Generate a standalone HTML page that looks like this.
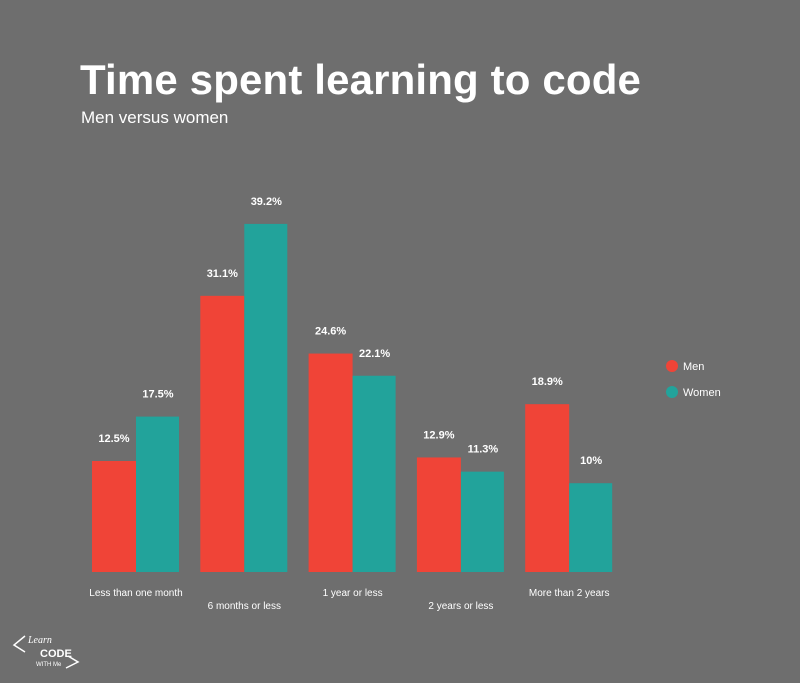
<!DOCTYPE html>
<html><head><meta charset="utf-8"><style>
html,body{margin:0;padding:0;background:#6e6e6e;}
body{width:800px;height:683px;position:relative;overflow:hidden;font-family:"Liberation Sans",sans-serif;color:#fff;}
#title{position:absolute;left:80px;top:56px;font-size:42px;font-weight:bold;letter-spacing:0.15px;}
#sub{position:absolute;left:81px;top:108px;font-size:17px;}
svg{position:absolute;left:0;top:0;}
</style></head><body>
<div id="title">Time spent learning to code</div>
<div id="sub">Men versus women</div>
<svg id="chart" width="800" height="683">
<g id="legend">
<circle cx="672" cy="366" r="6" fill="#f04437"/>
<text x="683" y="370" font-size="11" fill="#fff" font-family="Liberation Sans, sans-serif">Men</text>
<circle cx="672" cy="392" r="6" fill="#22a39b"/>
<text x="683" y="396" font-size="11" fill="#fff" font-family="Liberation Sans, sans-serif">Women</text>
</g>
<g id="logo" fill="none" stroke="#fff" stroke-width="1.5">
<polyline points="25,636 14,645 25,652"/><polyline points="68,656 78,662 66,668"/>
<text x="28" y="643" font-size="10" font-style="italic" fill="#fff" stroke="none" font-family="Liberation Serif, serif">Learn</text>
<text x="40" y="657" font-size="11" font-weight="bold" fill="#fff" stroke="none" font-family="Liberation Sans, sans-serif">CODE</text>
<text x="36" y="666" font-size="6" fill="#fff" stroke="none" font-family="Liberation Sans, sans-serif">WITH Me</text>
</g>
</svg>
<script>
const categories=["Less than one month","6 months or less","1 year or less","2 years or less","More than 2 years"];
const men=[12.5,31.1,24.6,12.9,18.9];
const women=[17.5,39.2,22.1,11.3,10];
const menLabels=["12.5%","31.1%","24.6%","12.9%","18.9%"];
const womenLabels=["17.5%","39.2%","22.1%","11.3%","10%"];
const svg=document.getElementById('chart');
const NS='http://www.w3.org/2000/svg';
const base=572, pxPer=8.88, x0=92, step=108.3, bw=44;
function y(v){return base-v*pxPer;}
function gx(i){return x0+i*step;}
function mk(t,a){const e=document.createElementNS(NS,t);for(const k in a)e.setAttribute(k,a[k]);svg.appendChild(e);return e;}
categories.forEach((c,i)=>{
 const x=gx(i);
 const r1=mk('rect',{x:x,y:y(men[i]),width:bw,height:base-y(men[i]),fill:'#f04437'});
 
 
 const r2=mk('rect',{x:x+bw,y:y(women[i]),width:bw-1,height:base-y(women[i]),fill:'#22a39b'});
 
 
 const t1=mk('text',{x:x+bw/2,y:y(men[i])-19,'text-anchor':'middle','font-size':11,'font-weight':'bold',fill:'#fff','font-family':'Liberation Sans, sans-serif'});
 t1.textContent=menLabels[i];
 
 
 const t2=mk('text',{x:x+bw*1.5,y:y(women[i])-19,'text-anchor':'middle','font-size':11,'font-weight':'bold',fill:'#fff','font-family':'Liberation Sans, sans-serif'});
 t2.textContent=womenLabels[i];
 
 
 const cl=mk('text',{x:x+bw,y:(i%2?609:596),'text-anchor':'middle','font-size':10,fill:'#fff','font-family':'Liberation Sans, sans-serif'});
 cl.textContent=c;
 
 
});
</script>
</body></html>
